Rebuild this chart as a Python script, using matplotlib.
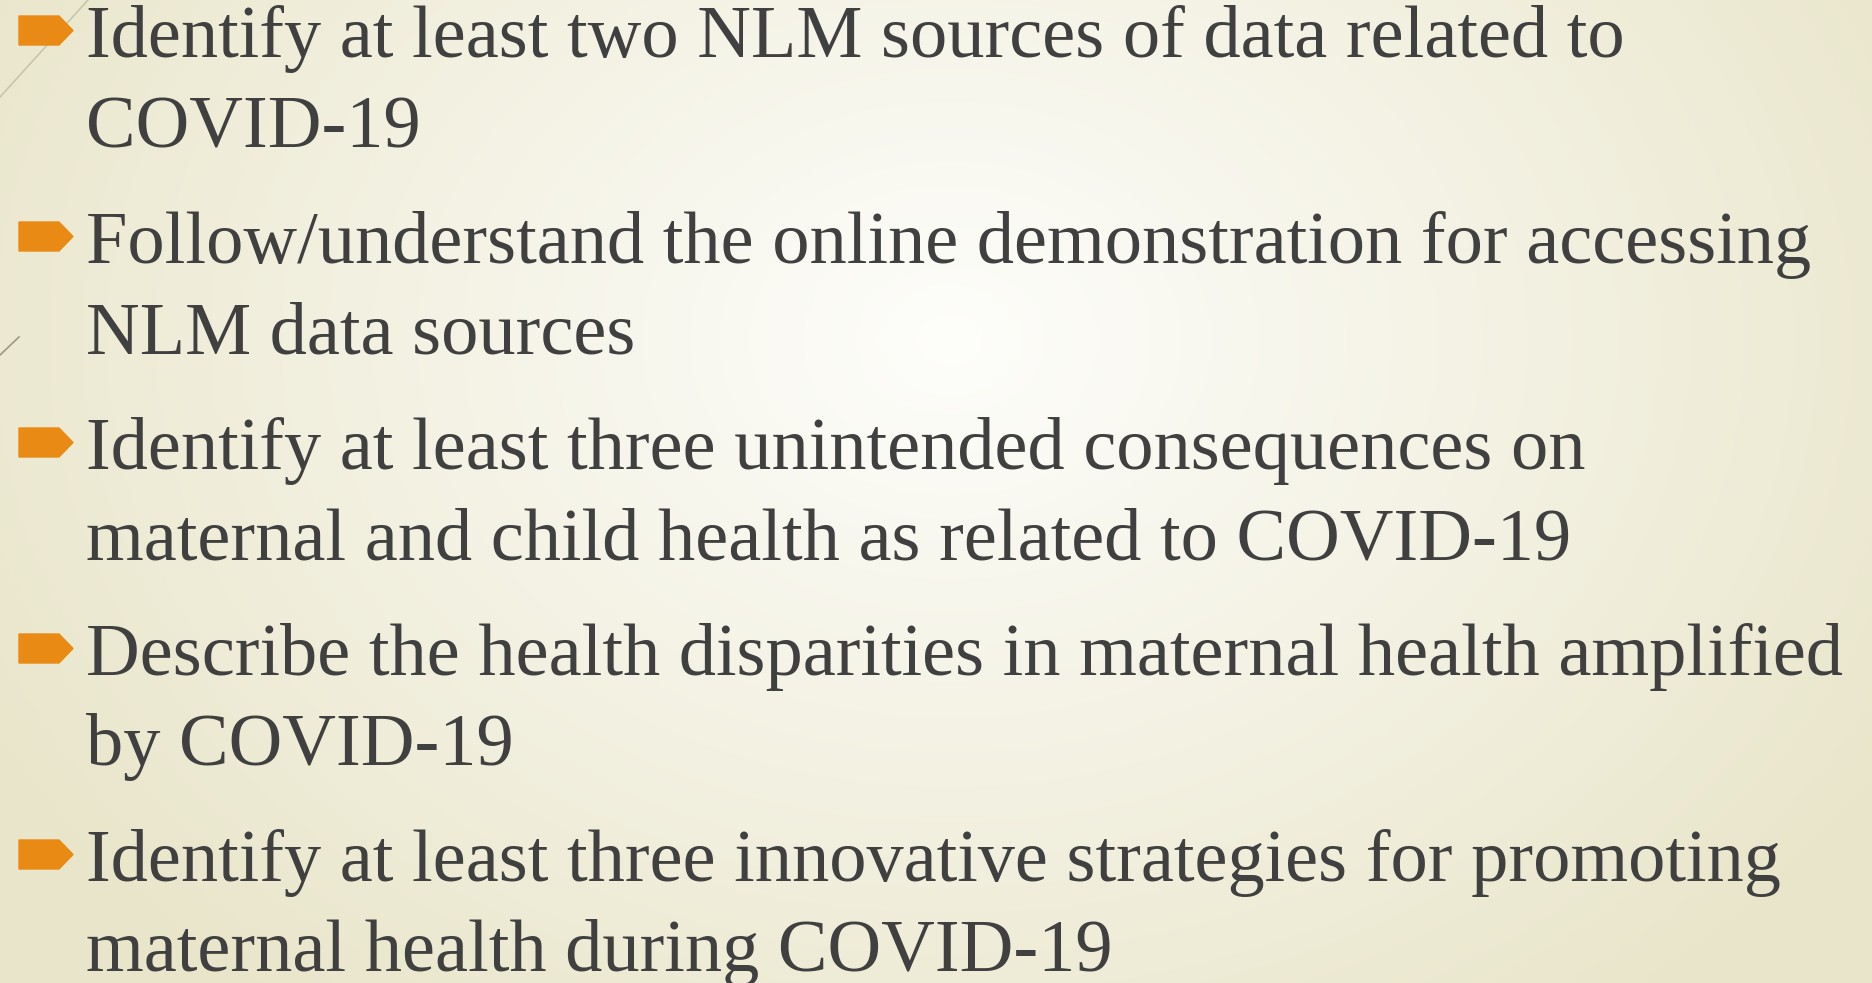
import numpy as np
import matplotlib.pyplot as plt
from matplotlib.patches import Polygon

plt.rcParams['font.family'] = ['Liberation Serif', 'DejaVu Serif']

W, H = 1872, 983

# slide content: each bullet is a list of wrapped lines
bullets = [
    ["Identify at least two NLM sources of data related to", "COVID-19"],
    ["Follow/understand the online demonstration for accessing", "NLM data sources"],
    ["Identify at least three unintended consequences on",
     "maternal and child health as related to COVID-19"],
    ["Describe the health disparities in maternal health amplified", "by COVID-19"],
    ["Identify at least three innovative strategies for promoting",
     "maternal health during COVID-19"],
]

text_color = '#404040'
bullet_color = '#e88a14'

fig = plt.figure(figsize=(W / 100, H / 100), dpi=100)
ax = fig.add_axes([0, 0, 1, 1])
ax.set_xlim(0, W)
ax.set_ylim(H, 0)
ax.axis('off')

# radial background, light centre -> beige edges
yy, xx = np.mgrid[0:H, 0:W]
cx, cy = 950, 340
r = np.sqrt(((xx - cx) / 1100) ** 2 + ((yy - cy) / 850) ** 2)
r = np.clip(r, 0, 1)
c0 = np.array([0.995, 0.995, 0.985])
c1 = np.array([0.915, 0.90, 0.795])
img = c0[None, None, :] * (1 - r[..., None]) + c1[None, None, :] * r[..., None]
ax.imshow(img, extent=[0, W, H, 0], aspect='auto', zorder=0)

# thin decorative lines at the left
ax.plot([0, 88], [97, 0], color='#c8c6a8', lw=1.2, zorder=1)
ax.plot([0, 19], [355, 337], color='#9a9a80', lw=1.2, zorder=1)

x_text = 86
first_base = 57
bullet_step = 206
line_step = 90

for i, lines in enumerate(bullets):
    base = first_base + i * bullet_step
    top = base - 41
    bot = base - 12
    mid = (top + bot) / 2
    ax.add_patch(Polygon([(19, top), (59, top), (73, mid), (59, bot), (19, bot)],
                         closed=True, color=bullet_color, zorder=2))
    for j, line in enumerate(lines):
        ax.text(x_text, base + j * line_step, line, fontsize=53.6, color=text_color,
                va='baseline', ha='left', zorder=3)

fig.savefig('out.png', dpi=100)
